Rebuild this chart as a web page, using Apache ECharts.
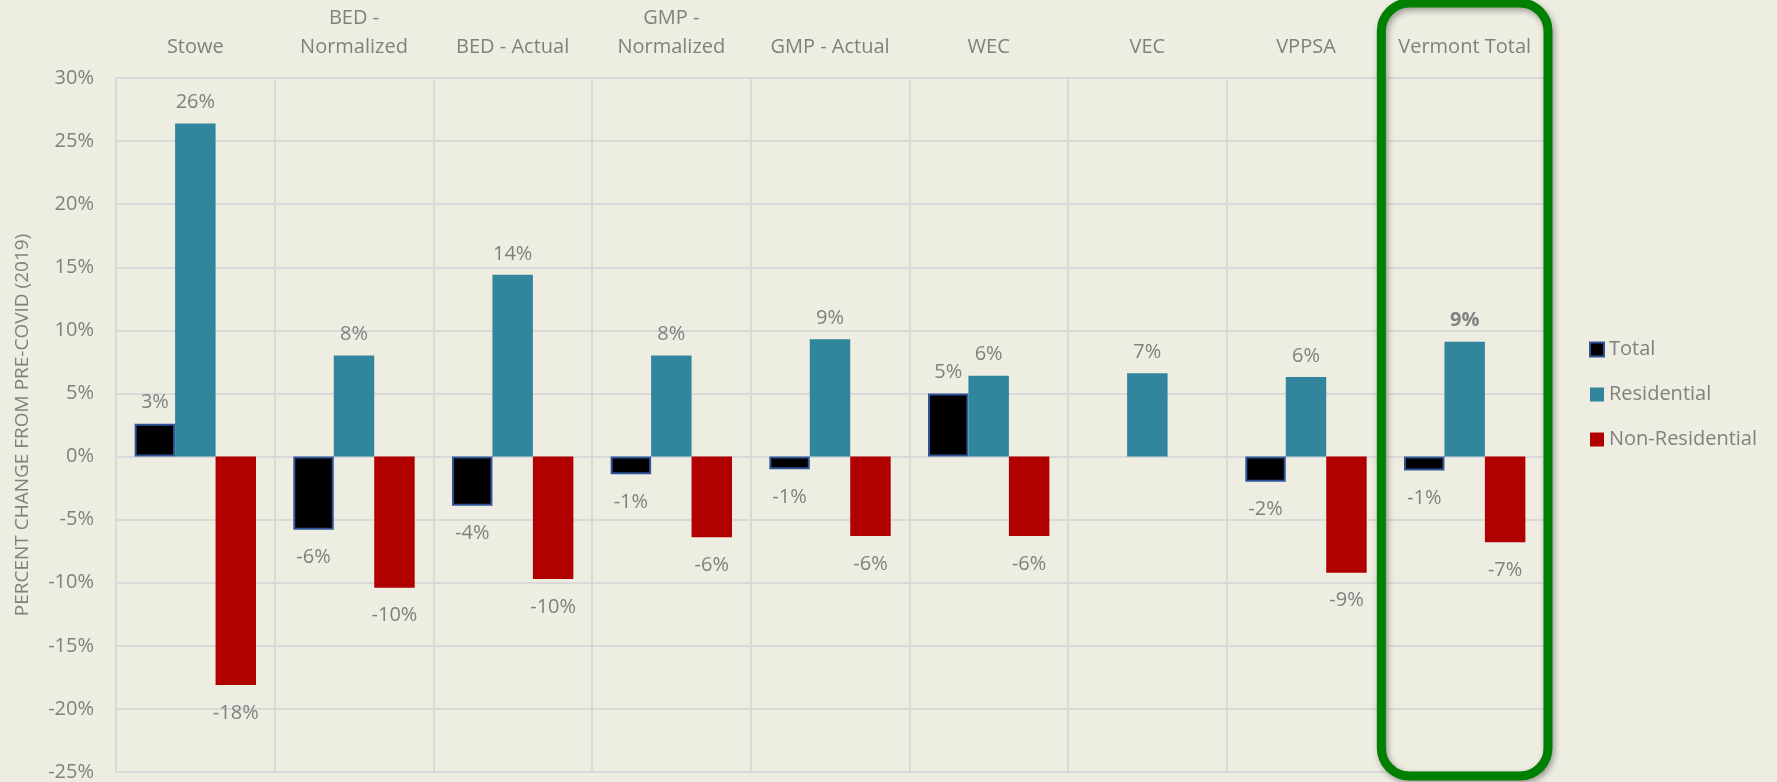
<!DOCTYPE html>
<html>
<head>
<meta charset="utf-8">
<script src="https://cdn.jsdelivr.net/npm/echarts@6/dist/echarts.min.js"></script>
<style>
  html, body { margin: 0; padding: 0; background: #EEEDE2; }
  #box { width: 1777px; height: 782px; }
</style>
</head>
<body>
<div id="box"></div>
<script>
// 数据
var categories = ['Stowe', 'BED -\nNormalized', 'BED - Actual', 'GMP -\nNormalized', 'GMP - Actual', 'WEC', 'VEC', 'VPPSA', 'Vermont Total'];
var totalValues = [2.6, -5.8, -3.9, -1.4, -1.0, 5.0, null, -2.0, -1.1];
var residentialValues = [26.4, 8.0, 14.4, 8.0, 9.3, 6.4, 6.6, 6.3, 9.1];
var nonResidentialValues = [-18.1, -10.4, -9.7, -6.4, -6.3, -6.3, null, -9.2, -6.8];
var yTicks = [-25, 30, 5]; // min, max, interval

var gray = '#808080';
var fontFamily = 'Open Sans';

// 正值标签在上，负值标签在下
function buildData(values, boldIndex) {
    return values.map(function (v, i) {
        if (v === null) return '-';
        return {
            value: v,
            label: {
                position: v >= 0 ? 'top' : 'bottom',
                distance: v >= 0 ? 11 : 18,
                fontWeight: i === boldIndex ? 'bold' : 'normal'
            }
        };
    });
}

var labelStyle = {
    show: true,
    color: gray,
    fontSize: 20,
    fontFamily: fontFamily,
    formatter: function (p) { return Math.round(p.value) + '%'; }
};

var myChart = echarts.init(document.getElementById('box'));
var option = {
    backgroundColor: '#EEEDE2',
    animation: false,
    grid: {
        left: 116,
        right: 233,
        top: 78,
        bottom: 9
    },
    legend: {
        orient: 'vertical',
        left: 1584,
        top: 334,
        itemWidth: 14,
        itemHeight: 14,
        itemGap: 24,
        icon: 'rect',
        textStyle: { color: gray, fontSize: 20, fontFamily: fontFamily, lineHeight: 21 },
        data: ['Total', 'Residential', 'Non-Residential']
    },
    xAxis: {
        type: 'category',
        position: 'top',
        data: categories,
        axisLine: { show: false, onZero: false },
        axisTick: { show: false },
        axisLabel: {
            color: gray,
            fontSize: 20,
            fontFamily: fontFamily,
            lineHeight: 29,
            margin: 16,
            interval: 0
        },
        splitLine: { show: true, lineStyle: { color: '#D9D9D9', width: 2 } }
    },
    yAxis: {
        type: 'value',
        min: yTicks[0],
        max: yTicks[1],
        interval: yTicks[2],
        name: 'PERCENT CHANGE FROM PRE-COVID (2019)',
        nameLocation: 'middle',
        nameGap: 84,
        nameTextStyle: { color: gray, fontSize: 19, fontFamily: fontFamily },
        axisLine: { show: false },
        axisTick: { show: false },
        axisLabel: {
            color: gray,
            fontSize: 20,
            fontFamily: fontFamily,
            margin: 22,
            formatter: '{value}%'
        },
        splitLine: { lineStyle: { color: '#D9D9D9', width: 2 } }
    },
    series: [
        {
            name: 'Total',
            type: 'bar',
            barWidth: '25.5%',
            barGap: '0%',
            data: buildData(totalValues, -1),
            itemStyle: { color: '#000000', borderColor: '#2F5597', borderWidth: 2 },
            label: labelStyle
        },
        {
            name: 'Residential',
            type: 'bar',
            barWidth: '25.5%',
            barGap: '0%',
            data: buildData(residentialValues, 8),
            itemStyle: { color: '#31859C' },
            label: labelStyle
        },
        {
            name: 'Non-Residential',
            type: 'bar',
            barWidth: '25.5%',
            barGap: '0%',
            data: buildData(nonResidentialValues, -1),
            itemStyle: { color: '#B00000' },
            label: labelStyle
        }
    ]
};

myChart.setOption(option);

// 绿色圆角框，框住 Vermont Total
var last = categories.length - 1;
var cx = myChart.convertToPixel({ xAxisIndex: 0 }, last);
var catW = (1777 - 116 - 233) / categories.length;
myChart.setOption({
    graphic: [{
        type: 'rect',
        z: 100,
        shape: { x: cx - catW / 2 - 4, y: 3, width: catW + 8, height: 773, r: 28 },
        style: {
            fill: 'none',
            stroke: '#008000',
            lineWidth: 9,
            shadowBlur: 6,
            shadowColor: 'rgba(0,0,0,0.35)',
            shadowOffsetX: 2,
            shadowOffsetY: 3
        }
    }]
});
</script>
</body>
</html>
